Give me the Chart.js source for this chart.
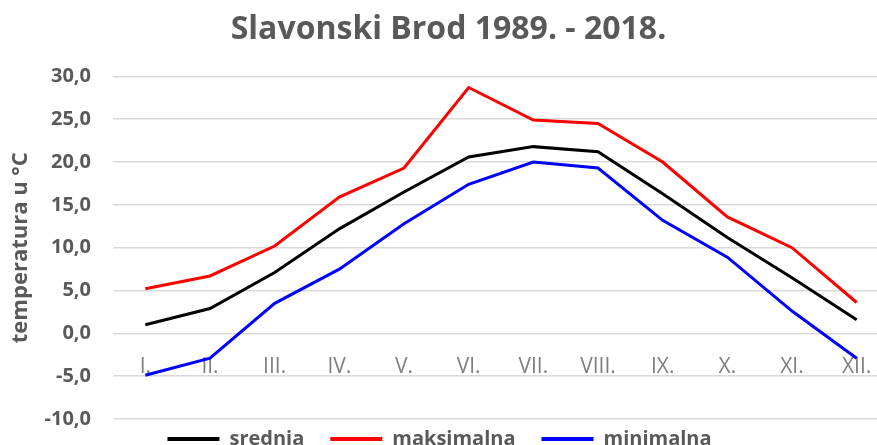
<!DOCTYPE html>
<html>
<head>
<meta charset="utf-8">
<script src="https://cdn.jsdelivr.net/npm/chart.js@4.4.1/dist/chart.umd.min.js"></script>
<style>
html,body{margin:0;padding:0;background:#fff;overflow:hidden;}
#wrap{width:889px;height:445px;position:relative;}
</style>
</head>
<body>
<div id="wrap"><canvas id="c"></canvas></div>
<script>
const months = ['I.', 'II.', 'III.', 'IV.', 'V.', 'VI.', 'VII.', 'VIII.', 'IX.', 'X.', 'XI.', 'XII.'];
const srednja = [1.0, 2.9, 7.1, 12.2, 16.5, 20.6, 21.8, 21.2, 16.3, 11.2, 6.5, 1.6];
const maksimalna = [5.2, 6.7, 10.2, 15.9, 19.3, 28.7, 24.9, 24.5, 20.0, 13.6, 10.0, 3.6];
const minimalna = [-4.9, -2.9, 3.5, 7.5, 12.8, 17.4, 20.0, 19.3, 13.2, 8.9, 2.6, -2.9];
const chartTitle = 'Slavonski Brod 1989. - 2018.';
const yTitle = 'temperatura u °C';

const FONT = "'Open Sans', 'Noto Sans', sans-serif";
const GRAY = '#595959';

function ds(label, data, color) {
  return {
    label, data,
    borderColor: color, backgroundColor: color,
    borderWidth: 3, pointRadius: 0, tension: 0,
  };
}

// the original picture is cropped on its right side; the canvas is a little wider
// than the window, so legend and title are shifted to where they sit in the original
const boxNudge = {
  id: 'boxNudge',
  afterLayout(chart) {
    const lg = chart.legend;
    if (lg) {
      lg.top -= 16; lg.bottom -= 16;
      lg.left -= 5; lg.right -= 5;
    }
    const tb = chart.titleBlock;
    if (tb) { tb.left += 4; tb.right += 4; }
  }
};

new Chart(document.getElementById('c'), {
  type: 'line',
  data: {
    labels: months,
    datasets: [
      ds('srednja', srednja, '#000000'),
      ds('maksimalna', maksimalna, '#ff0000'),
      ds('minimalna', minimalna, '#0000ff'),
    ]
  },
  plugins: [boxNudge],
  options: {
    responsive: true,
    maintainAspectRatio: false,
    animation: false,
    layout: { padding: { left: 0, right: 0, top: 11, bottom: -30 } },
    plugins: {
      title: {
        display: true, text: chartTitle, color: GRAY,
        font: { family: FONT, size: 32, weight: 'bold' },
        padding: { top: 0, bottom: 27 }
      },
      legend: {
        position: 'bottom',
        labels: {
          color: GRAY,
          font: { family: FONT, size: 20, weight: 'bold' },
          boxWidth: 52, boxHeight: 4, padding: 26,
          generateLabels: (chart) => Chart.defaults.plugins.legend.labels.generateLabels(chart).map(l => ({ ...l, lineWidth: 0 }))
        }
      },
      tooltip: { enabled: false }
    },
    scales: {
      x: {
        position: { y: 0 },
        offset: true,
        grid: { display: false, drawTicks: false },
        border: { display: false },
        ticks: {
          color: '#7f7f7f', padding: 21, maxRotation: 0, autoSkip: false,
          font: { family: FONT, size: 21 }
        },
        afterFit: (s) => { s.height = 0; s.paddingLeft = 0; s.paddingRight = 0; }
      },
      y: {
        min: -10, max: 30,
        grid: { color: '#d9d9d9', lineWidth: 1.5, drawTicks: false },
        border: { display: false },
        ticks: {
          stepSize: 5, padding: 22, color: GRAY,
          font: { family: FONT, size: 20, weight: 'bold' },
          callback: (v) => Number(v).toFixed(1).replace('.', ',')
        },
        title: {
          display: true, text: yTitle, color: GRAY,
          font: { family: FONT, size: 22, weight: 'bold' },
          padding: { top: 8, bottom: 0 }
        },
        afterFit: (s) => { s.width = 113; s.paddingTop = 0; s.paddingBottom = 0; }
      }
    }
  }
});
</script>
</body>
</html>
